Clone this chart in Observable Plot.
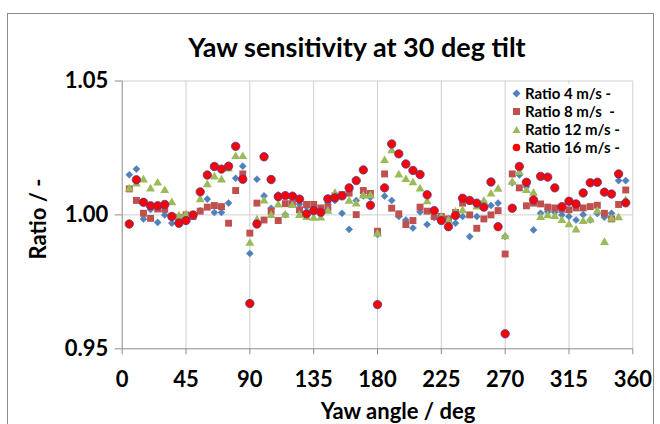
<!DOCTYPE html>
<html><head><meta charset="utf-8">
<script src="https://cdn.jsdelivr.net/npm/d3@7"></script>
<script src="https://cdn.jsdelivr.net/npm/@observablehq/plot@0.6"></script>
<style>
html,body{margin:0;padding:0;background:#fff;}
#wrap{position:relative;width:660px;height:424px;overflow:hidden;font-family:Lato,"Open Sans",sans-serif;}
#frame{position:absolute;left:7px;top:13px;width:647px;height:430px;border:1px solid #8c8c8c;box-sizing:border-box;}
#title{position:absolute;left:0;width:714px;top:30px;text-align:center;font-weight:bold;font-size:27px;color:#000;}
#legend{position:absolute;left:508px;top:84px;width:124px;height:72px;background:#fff;font-weight:bold;font-size:15px;color:#000;}
#legend div{height:18px;line-height:18px;white-space:pre;display:flex;align-items:center;}
#legend svg{margin:0 4px 0 4px;}
#chart{position:absolute;left:0;top:0;}
</style></head>
<body><div id="wrap"><div id="chart"></div><div id="frame"></div><div id="title">Yaw sensitivity at 30 deg tilt</div><div id="legend"></div></div>
<script>
const yaw = [5,10,15,20,25,30,35,40,45,50,55,60,65,70,75,80,85,90,95,100,105,110,115,120,125,130,135,140,145,150,155,160,165,170,175,180,185,190,195,200,205,210,215,220,225,230,235,240,245,250,255,260,265,270,275,280,285,290,295,300,305,310,315,320,325,330,335,340,345,350,355];
const ratio4 = [1.0150,1.0171,0.9985,1.0020,0.9972,1.0000,0.9969,0.9975,0.9990,0.9995,1.0016,1.0059,1.0009,1.0009,1.0044,1.0137,1.0182,0.9856,1.0133,1.0071,1.0025,1.0075,1.0001,1.0068,1.0040,1.0030,1.0010,1.0020,1.0045,1.0054,1.0006,0.9946,1.0054,1.0071,1.0066,0.9927,1.0070,1.0054,0.9994,0.9981,0.9951,1.0011,0.9964,0.9990,0.9994,0.9985,0.9969,0.9994,0.9919,0.9994,1.0035,1.0035,1.0044,0.9920,1.0120,1.0149,1.0105,0.9944,1.0006,1.0012,1.0010,1.0000,0.9994,0.9981,1.0001,0.9981,1.0005,0.9991,1.0006,1.0128,1.0128];
const ratio8 = [1.0097,1.0054,1.0006,0.9987,1.0022,1.0021,0.9994,0.9990,1.0000,0.9994,1.0014,1.0029,1.0035,1.0031,0.9969,1.0091,1.0153,0.9932,1.0044,0.9981,1.0014,0.9979,1.0042,1.0042,1.0019,1.0039,1.0039,1.0026,1.0028,1.0071,1.0076,1.0081,1.0001,1.0091,1.0080,0.9939,1.0153,1.0025,1.0004,0.9964,0.9979,1.0029,1.0014,0.9994,0.9994,0.9985,1.0009,1.0044,1.0000,0.9950,0.9985,1.0000,1.0016,0.9854,1.0153,1.0101,1.0034,1.0044,1.0041,1.0029,1.0026,1.0021,1.0019,1.0026,1.0026,1.0031,1.0036,1.0006,0.9985,1.0039,1.0093];
const ratio12 = [1.0097,1.0116,1.0131,1.0097,1.0119,1.0091,1.0046,0.9996,1.0001,0.9995,1.0057,1.0113,1.0142,1.0131,1.0172,1.0218,1.0218,0.9894,0.9981,1.0052,0.9998,1.0037,0.9999,1.0035,0.9998,0.9991,0.9988,0.9989,1.0014,1.0080,1.0072,1.0051,1.0041,1.0071,1.0072,0.9929,1.0203,1.0240,1.0149,1.0132,1.0120,1.0097,1.0049,1.0010,0.9992,0.9979,1.0010,1.0016,1.0051,1.0030,1.0051,1.0078,1.0096,0.9919,1.0122,1.0159,1.0091,1.0081,0.9991,0.9997,0.9994,0.9979,0.9963,0.9944,0.9976,0.9981,1.0014,0.9897,0.9985,0.9990,1.0054];
const ratio16 = [0.9966,1.0131,1.0047,1.0034,1.0034,1.0039,0.9994,0.9969,0.9979,1.0000,1.0086,1.0149,1.0181,1.0171,1.0182,1.0256,1.0133,0.9669,0.9966,1.0217,1.0132,1.0068,1.0072,1.0070,1.0059,1.0004,1.0016,1.0010,1.0060,1.0064,1.0071,1.0101,1.0128,1.0168,1.0036,0.9665,1.0101,1.0265,1.0228,1.0190,1.0166,1.0151,1.0075,1.0016,0.9979,0.9956,0.9998,1.0062,1.0054,1.0044,1.0029,1.0123,0.9956,0.9556,1.0025,1.0181,1.0122,1.0056,1.0144,1.0141,1.0101,1.0031,1.0051,1.0041,1.0082,1.0120,1.0122,1.0085,1.0078,1.0153,1.0045];
const seriesNames = ["Ratio 4 m/s -","Ratio 8 m/s  -","Ratio 12 m/s -","Ratio 16 m/s -"];
const xTicks = [0,45,90,135,180,225,270,315,360];
const yTicks = [0.95,1.00,1.05];

const mk = vals => yaw.map((d,i)=>({yaw:d, r:vals[i]}));
const d4 = mk(ratio4), d8 = mk(ratio8), d12 = mk(ratio12), d16 = mk(ratio16);
const plot = Plot.plot({
  width:660, height:424,
  marginLeft:121.7, marginRight:27.7, marginTop:80.5, marginBottom:75.7,
  x:{domain:[0,360]}, y:{domain:[0.95,1.05]},
  style:{fontFamily:"Lato", background:"transparent"},
  marks:[
    Plot.ruleX(xTicks.filter(d=>d>0), {stroke:"#cfcfcf", strokeWidth:1, strokeOpacity:1}),
    Plot.ruleY([1.00,1.05], {stroke:"#cfcfcf", strokeWidth:1, strokeOpacity:1}),
    Plot.ruleY([0.95], {stroke:"#8c8c8c"}),
    Plot.ruleX([0], {stroke:"#8c8c8c"}),
    Plot.axisX({ticks:xTicks, tickSize:6, tickPadding:17, stroke:"#8c8c8c", tickFormat:d=>String(d), fontSize:22, fontWeight:"bold", fill:"#000", label:null}),
    Plot.axisY({ticks:yTicks, tickSize:7, tickPadding:7, stroke:"#8c8c8c", tickFormat:d=>d.toFixed(2), fontSize:22, fontWeight:"bold", fill:"#000", label:null}),
    Plot.dot(d4, {x:"yaw", y:"r", symbol:"diamond2", r:3.2, fill:"#4F81BD", stroke:"#4F81BD", strokeWidth:0.5}),
    Plot.dot(d8, {x:"yaw", y:"r", symbol:"square", r:3.9, fill:"#C0504D", stroke:"none"}),
    Plot.dot(d12, {x:"yaw", y:"r", symbol:"triangle", r:3.3, fill:"#9BBB59", stroke:"none"}),
    Plot.dot(d16, {x:"yaw", y:"r", symbol:"circle", r:4.2, fill:"#FF0000", stroke:"#4b3c96", strokeWidth:0.8})
  ]
});
d3.select(plot).append("text").attr("x",398).attr("y",419).attr("text-anchor","middle")
  .attr("font-family","Lato").attr("font-weight","bold").attr("font-size",22).text("Yaw angle / deg");
d3.select(plot).append("text").attr("transform","translate(46,219) rotate(-90)").attr("text-anchor","middle")
  .attr("font-family","Lato").attr("font-weight","bold").attr("font-size",22).text("Ratio / -");
document.getElementById("chart").appendChild(plot);

const legendSyms = [
  '<svg width="9" height="9"><path d="M4.5,0.5L8.5,4.5L4.5,8.5L0.5,4.5Z" fill="#4F81BD"/></svg>',
  '<svg width="9" height="9"><rect x="1" y="1" width="7" height="7" fill="#C0504D"/></svg>',
  '<svg width="9" height="9"><path d="M4.5,1L8.5,8L0.5,8Z" fill="#9BBB59"/></svg>',
  '<svg width="9" height="9"><circle cx="4.5" cy="4.5" r="3.8" fill="#FF0000"/></svg>'
];
document.getElementById("legend").innerHTML = seriesNames.map((n,i)=>`<div>${legendSyms[i]}<span>${n}</span></div>`).join("");
</script></body></html>
